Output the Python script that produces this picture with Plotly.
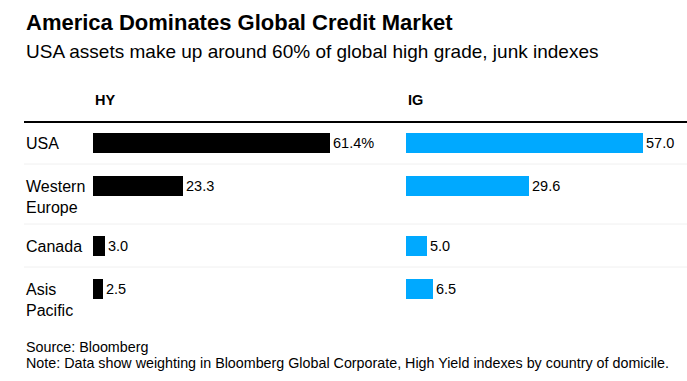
import plotly.graph_objects as go

# ---- data ----
regions = ["USA", "Western<br>Europe", "Canada", "Asis<br>Pacific"]
hy_values = [61.4, 23.3, 3.0, 2.5]
ig_values = [57.0, 29.6, 5.0, 6.5]
panel_titles = ["HY", "IG"]

title = "America Dominates Global Credit Market"
subtitle = "USA assets make up around 60% of global high grade, junk indexes"
source = "Source: Bloomberg"
note = "Note: Data show weighting in Bloomberg Global Corporate, High Yield indexes by country of domicile."

# ---- layout helpers ----
FONT = "Liberation Sans, Arial, Helvetica, sans-serif"
W, H = 687, 381
ML, MR, MT = 24, 0, 121
ROW_1LINE, ROW_2LINE = 43, 60
BAR_OFFSET, BAR_W = 22, 20

row_heights = [ROW_2LINE if "<br>" in r else ROW_1LINE for r in regions]
row_tops = []
acc = 0
for h in row_heights:
    row_tops.append(acc)
    acc += h
plot_h = acc
MB = H - MT - plot_h
bar_pos = [t + BAR_OFFSET for t in row_tops]

pw = W - ML - MR
def dom(a, b):
    return [(a - ML) / pw, (b - ML) / pw]

hy_text = [f"{v:.1f}%" if i == 0 else f"{v:.1f}" for i, v in enumerate(hy_values)]
ig_text = [f"{v:.1f}" for v in ig_values]

fig = go.Figure()
fig.add_trace(go.Bar(
    x=hy_values, y=bar_pos, orientation="h", width=BAR_W,
    marker=dict(color="#000000", line=dict(width=0)),
    text=hy_text, textposition="outside", cliponaxis=False, constraintext="none",
    textfont=dict(family=FONT, size=14.5, color="#000000"),
    xaxis="x", yaxis="y", hoverinfo="skip", showlegend=False,
))
fig.add_trace(go.Bar(
    x=ig_values, y=bar_pos, orientation="h", width=BAR_W,
    marker=dict(color="#00A9FF", line=dict(width=0)),
    text=ig_text, textposition="outside", cliponaxis=False, constraintext="none",
    textfont=dict(family=FONT, size=14.5, color="#000000"),
    xaxis="x2", yaxis="y2", hoverinfo="skip", showlegend=False,
))

axis_common = dict(showgrid=False, zeroline=False, showticklabels=False, ticks="", showline=False, fixedrange=True)
fig.update_layout(
    width=W, height=H,
    margin=dict(l=ML, r=MR, t=MT, b=MB, pad=0),
    paper_bgcolor="white", plot_bgcolor="white",
    font=dict(family=FONT, color="#000000"),
    xaxis=dict(domain=dom(93, 330), range=[0, max(hy_values)], **axis_common),
    xaxis2=dict(domain=dom(406, 643), range=[0, max(ig_values)], **axis_common),
    yaxis=dict(range=[plot_h, 0], anchor="x", **axis_common),
    yaxis2=dict(range=[plot_h, 0], anchor="x2", matches="y", **axis_common),
    bargap=0,
)

shapes = [dict(type="line", xref="paper", yref="y", x0=0, x1=1, y0=0.5, y1=0.5,
               line=dict(color="#000000", width=3))]
for t in row_tops[1:]:
    shapes.append(dict(type="line", xref="paper", yref="y", x0=0, x1=1, y0=t, y1=t,
                       line=dict(color="#f0f0f0", width=1)))
fig.update_layout(shapes=shapes)

ann = []
ann.append(dict(text=f"<b>{title}</b>", xref="paper", yref="paper", x=0, y=1, yshift=99,
                xanchor="left", yanchor="middle", showarrow=False,
                font=dict(family=FONT, size=22, color="#000000")))
ann.append(dict(text=subtitle, xref="paper", yref="paper", x=0, y=1, yshift=70,
                xanchor="left", yanchor="middle", showarrow=False,
                font=dict(family=FONT, size=19, color="#000000")))
for xr, pt in zip(["x domain", "x2 domain"], panel_titles):
    ann.append(dict(text=f"<b>{pt}</b>", xref=xr, yref="paper", x=0, y=1, yshift=21,
                    xanchor="left", yanchor="middle", showarrow=False,
                    font=dict(family=FONT, size=14.5, color="#000000")))
for r, t in zip(regions, row_tops):
    ann.append(dict(text=r, xref="paper", yref="y", x=0, y=t + 12,
                    xanchor="left", yanchor="top", align="left", showarrow=False,
                    font=dict(family=FONT, size=16, color="#000000")))
ann.append(dict(text=source, xref="paper", yref="paper", x=0, y=0, yshift=-20,
                xanchor="left", yanchor="middle", showarrow=False,
                font=dict(family=FONT, size=14.3, color="#000000")))
ann.append(dict(text=note, xref="paper", yref="paper", x=0, y=0, yshift=-36,
                xanchor="left", yanchor="middle", showarrow=False,
                font=dict(family=FONT, size=14.3, color="#000000")))
fig.update_layout(annotations=ann)

fig.write_html("out.html", config=dict(displayModeBar=False),
               post_script="document.body.style.margin='0';document.body.style.overflow='hidden';")
